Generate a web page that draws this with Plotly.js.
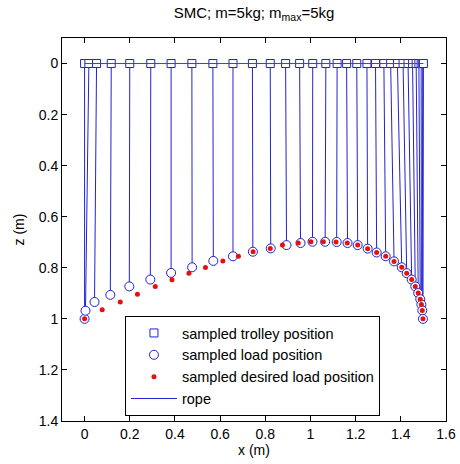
<!DOCTYPE html>
<html>
<head>
<meta charset="utf-8">
<script src="https://cdn.plot.ly/plotly-3.0.1.min.js"></script>
<style>html,body{margin:0;padding:0;background:#fff;}#chart{width:460px;height:464px;}</style>
</head>
<body>
<div id="chart"></div>
<script>
// Sampled trolley x positions (z = 0)
const trolleyX = [0, 0.019, 0.053, 0.118, 0.200, 0.293, 0.383, 0.475, 0.568, 0.657, 0.743, 0.822, 0.890, 0.952, 1.010, 1.068, 1.118, 1.160, 1.205, 1.250, 1.288, 1.325, 1.355, 1.385, 1.410, 1.432, 1.452, 1.468, 1.480, 1.490, 1.497, 1.500];
const trolleyZ = [0, 0, 0, 0, 0, 0, 0, 0, 0, 0, 0, 0, 0, 0, 0, 0, 0, 0, 0, 0, 0, 0, 0, 0, 0, 0, 0, 0, 0, 0, 0, 0];
// Sampled load positions
const loadX = [0, 0.004, 0.044, 0.114, 0.198, 0.291, 0.383, 0.476, 0.570, 0.657, 0.745, 0.824, 0.894, 0.956, 1.009, 1.065, 1.116, 1.164, 1.209, 1.253, 1.293, 1.333, 1.370, 1.404, 1.426, 1.448, 1.464, 1.477, 1.486, 1.491, 1.495, 1.498];
const loadZ = [1.0, 0.968, 0.934, 0.906, 0.873, 0.846, 0.820, 0.798, 0.773, 0.755, 0.737, 0.724, 0.711, 0.703, 0.698, 0.698, 0.699, 0.703, 0.711, 0.725, 0.740, 0.755, 0.775, 0.798, 0.821, 0.846, 0.873, 0.899, 0.923, 0.944, 0.967, 1.0];
// Sampled desired load positions
const desiredX = [0, 0.078, 0.158, 0.234, 0.313, 0.387, 0.462, 0.535, 0.612, 0.681, 0.746, 0.822, 0.876, 0.946, 1.002, 1.057, 1.113, 1.163, 1.209, 1.253, 1.293, 1.333, 1.370, 1.404, 1.426, 1.448, 1.464, 1.477, 1.486, 1.491, 1.495, 1.498];
const desiredZ = [1.0, 0.964, 0.934, 0.904, 0.873, 0.847, 0.821, 0.799, 0.773, 0.755, 0.737, 0.724, 0.711, 0.703, 0.698, 0.698, 0.699, 0.703, 0.711, 0.725, 0.740, 0.755, 0.775, 0.798, 0.821, 0.846, 0.873, 0.899, 0.923, 0.944, 0.967, 1.0];
// Rail (trolley path)
const railX = [0, 1.5];
const railZ = [0, 0];
// Ticks
const xTicks = [0, 0.2, 0.4, 0.6, 0.8, 1, 1.2, 1.4, 1.6];
const xTickText = ['0', '0.2', '0.4', '0.6', '0.8', '1', '1.2', '1.4', '1.6'];
const zTicks = [0, 0.2, 0.4, 0.6, 0.8, 1, 1.2, 1.4];
const zTickText = ['0', '0.2', '0.4', '0.6', '0.8', '1', '1.2', '1.4'];

const BLUE = '#2222d0';
const RED = '#e61010';
const FONT = 'Liberation Sans, Arial, sans-serif';

// Build rope segments
const ropeX = [], ropeZ = [];
for (let i = 0; i < trolleyX.length; i++) {
  ropeX.push(trolleyX[i], loadX[i], null);
  ropeZ.push(trolleyZ[i], loadZ[i], null);
}

const traces = [
  {x: ropeX, y: ropeZ, mode: 'lines', name: 'rope', line: {color: BLUE, width: 1}, legendrank: 4, hoverinfo: 'skip'},
  {x: trolleyX, y: trolleyZ, mode: 'markers', name: 'sampled trolley position',
   marker: {symbol: 'square', size: 8, color: 'white', line: {color: BLUE, width: 1}}, legendrank: 1},
  {x: railX, y: railZ, mode: 'lines', showlegend: false, line: {color: RED, width: 1}},
  {x: loadX, y: loadZ, mode: 'markers', name: 'sampled load position',
   marker: {symbol: 'circle', size: 9, color: 'white', line: {color: BLUE, width: 1}}, legendrank: 2},
  {x: desiredX, y: desiredZ, mode: 'markers', name: 'sampled desired load position',
   marker: {symbol: 'circle', size: 5, color: RED, line: {width: 0}}, legendrank: 3}
];

const axisCommon = {
  showline: true, linecolor: 'black', linewidth: 1, mirror: 'ticks',
  ticks: 'inside', ticklen: 5, tickcolor: 'black', tickwidth: 1,
  showgrid: false, zeroline: false,
  tickfont: {family: FONT, size: 14, color: 'black'}
};

const layout = {
  width: 460, height: 464,
  margin: {l: 62, r: 14, t: 38, b: 43},
  paper_bgcolor: 'white', plot_bgcolor: 'white',
  font: {family: FONT, size: 14, color: 'black'},
  title: {text: 'SMC; m=5kg; m<sub>max</sub>=5kg', font: {family: FONT, size: 15, color: 'black'},
          x: 0.5, xref: 'paper', y: 0.972, yref: 'container', yanchor: 'middle'},
  xaxis: Object.assign({}, axisCommon, {range: [-0.1, 1.6], tickvals: xTicks, ticktext: xTickText,
          title: {text: 'x (m)', font: {family: FONT, size: 14, color: 'black'}, standoff: 4}}),
  yaxis: Object.assign({}, axisCommon, {range: [1.4, -0.1], tickvals: zTicks, ticktext: zTickText,
          title: {text: 'z (m)', font: {family: FONT, size: 14, color: 'black'}, standoff: 10}}),
  legend: {x: 0.164, y: 0.013, xanchor: 'left', yanchor: 'bottom', bgcolor: 'white',
           bordercolor: 'black', borderwidth: 1, font: {family: FONT, size: 14.5, color: 'black'},
           tracegroupgap: 0, itemsizing: 'trace', itemwidth: 46},
  showlegend: true
};

Plotly.newPlot('chart', traces, layout, {displayModeBar: false, staticPlot: true});
</script>
</body>
</html>
